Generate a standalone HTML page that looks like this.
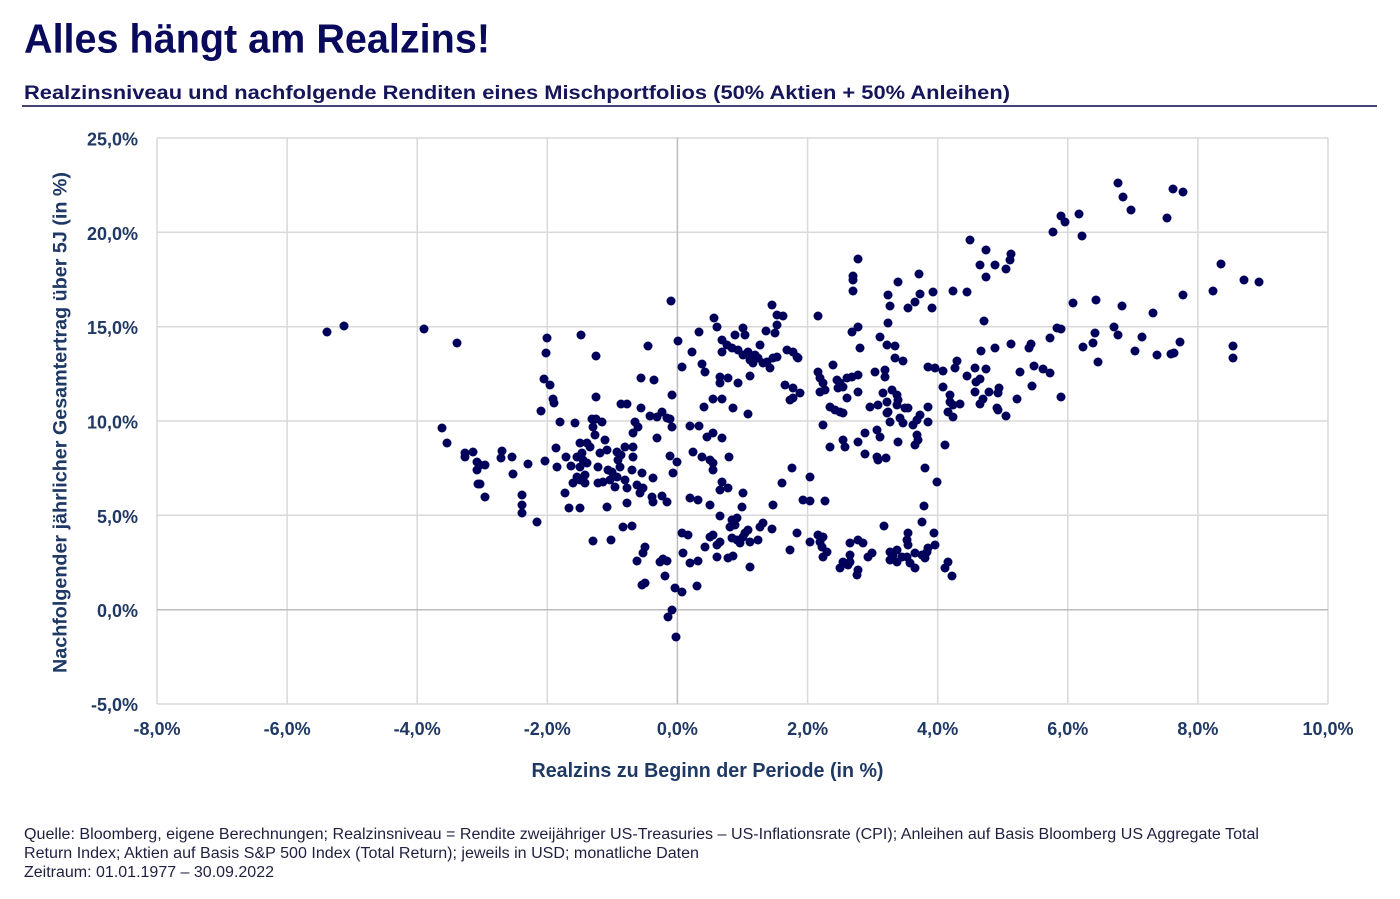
<!DOCTYPE html>
<html><head><meta charset="utf-8"><style>
html,body{margin:0;padding:0;background:#fff;}
svg{display:block;}
text{font-family:"Liberation Sans",Arial,sans-serif;}
</style></head><body>
<svg width="1400" height="899" viewBox="0 0 1400 899" xmlns="http://www.w3.org/2000/svg">
<rect width="1400" height="899" fill="#fff"/>
<text x="24" y="52.5" font-size="41" font-weight="bold" fill="#0a0a5c" textLength="466" lengthAdjust="spacingAndGlyphs">Alles hängt am Realzins!</text>
<text x="24" y="99" font-size="19" font-weight="bold" fill="#15155a" textLength="986" lengthAdjust="spacingAndGlyphs">Realzinsniveau und nachfolgende Renditen eines Mischportfolios (50% Aktien + 50% Anleihen)</text>
<line x1="22" y1="106" x2="1377" y2="106" stroke="#2b2b63" stroke-width="1.8"/>
<g stroke="#d9d9d9" stroke-width="1.5">
<line x1="157" y1="138" x2="157" y2="704"/>
<line x1="287.1" y1="138" x2="287.1" y2="704"/>
<line x1="417.2" y1="138" x2="417.2" y2="704"/>
<line x1="547.3" y1="138" x2="547.3" y2="704"/>
<line x1="807.6" y1="138" x2="807.6" y2="704"/>
<line x1="937.7" y1="138" x2="937.7" y2="704"/>
<line x1="1067.8" y1="138" x2="1067.8" y2="704"/>
<line x1="1197.9" y1="138" x2="1197.9" y2="704"/>
<line x1="1328" y1="138" x2="1328" y2="704"/>
<line x1="157" y1="138" x2="1328" y2="138"/>
<line x1="157" y1="232.3" x2="1328" y2="232.3"/>
<line x1="157" y1="326.7" x2="1328" y2="326.7"/>
<line x1="157" y1="421" x2="1328" y2="421"/>
<line x1="157" y1="515.3" x2="1328" y2="515.3"/>
<line x1="157" y1="704" x2="1328" y2="704"/>
</g>
<g stroke="#bcbcbc" stroke-width="1.5">
<line x1="677.4" y1="138" x2="677.4" y2="704"/>
<line x1="157" y1="609.7" x2="1328" y2="609.7"/>
</g>
<g font-size="18" font-weight="bold" fill="#1f3864" text-anchor="end">
<text x="138" y="145.5">25,0%</text>
<text x="138" y="239.8">20,0%</text>
<text x="138" y="334.2">15,0%</text>
<text x="138" y="428.5">10,0%</text>
<text x="138" y="522.8">5,0%</text>
<text x="138" y="617.2">0,0%</text>
<text x="138" y="711">-5,0%</text>
</g>
<g font-size="18" font-weight="bold" fill="#1f3864" text-anchor="middle">
<text x="157" y="735">-8,0%</text>
<text x="287.1" y="735">-6,0%</text>
<text x="417.2" y="735">-4,0%</text>
<text x="547.3" y="735">-2,0%</text>
<text x="677.4" y="735">0,0%</text>
<text x="807.6" y="735">2,0%</text>
<text x="937.7" y="735">4,0%</text>
<text x="1067.8" y="735">6,0%</text>
<text x="1197.9" y="735">8,0%</text>
<text x="1328" y="735">10,0%</text>
</g>
<text x="707.5" y="777" font-size="20" font-weight="bold" fill="#1f3864" text-anchor="middle" textLength="352" lengthAdjust="spacingAndGlyphs">Realzins zu Beginn der Periode (in %)</text>
<text transform="translate(66.5,422.5) rotate(-90)" x="0" y="0" font-size="19" font-weight="bold" fill="#1f3864" text-anchor="middle" textLength="501" lengthAdjust="spacingAndGlyphs">Nachfolgender jährlicher Gesamtertrag über 5J (in %)</text>
<g fill="#00005a" id="dots"></g>
<g font-size="15.5" fill="#1f2040">
<text x="24" y="839" textLength="1235" lengthAdjust="spacingAndGlyphs">Quelle: Bloomberg, eigene Berechnungen; Realzinsniveau = Rendite zweijähriger US-Treasuries – US-Inflationsrate (CPI); Anleihen auf Basis Bloomberg US Aggregate Total</text>
<text x="24" y="858" textLength="675" lengthAdjust="spacingAndGlyphs">Return Index; Aktien auf Basis S&amp;P 500 Index (Total Return); jeweils in USD; monatliche Daten</text>
<text x="24" y="877" textLength="250" lengthAdjust="spacingAndGlyphs">Zeitraum: 01.01.1977 – 30.09.2022</text>
</g>
</svg>
<script>
var pts="327,332 344,326 424,329 457,343 442,428 447,443 465,453 473,452 465,457 477,462 477,470 478,484 "+
"547,338 581,335 546,353 596,356 544,379 550,385 553,399 554,403 596,397 621,404 627,404 541,411 560,422 575,423 592,419 596,419 602,422 593,427 595,435 605,440 580,443 587,443 590,447 582,453 556,448 566,457 557,467 571,466 577,457 583,460 580,467 587,463 545,461 528,464 598,467 600,453 607,450 617,452 625,447 621,455 618,460 620,467 608,470 612,472 617,477 573,483 580,480 585,483 585,475 577,477 598,483 603,482 610,480 615,487 625,480 627,488 480,465 485,465 502,451 501,458 512,457 513,474 480,484 485,497 522,495 522,505 522,513 537,522 565,493 569,508 580,508 607,507 627,503 623,527 593,541 611,540 "+
"671,301 648,346 678,341 699,332 714,318 717,327 692,352 682,367 702,364 705,372 722,340 722,352 727,345 732,348 735,335 743,328 745,335 738,350 743,355 748,352 750,360 753,363 755,355 760,345 758,358 763,363 767,362 770,368 773,358 777,357 772,305 777,315 783,316 777,325 775,333 766,331 787,350 793,352 797,357 798,358 750,376 720,377 720,383 728,378 738,383 713,399 722,399 704,407 733,408 748,414 785,385 793,388 800,393 790,400 793,398 818,316 818,372 820,378 823,383 820,392 825,390 833,365 837,380 840,383 843,387 838,388 847,378 852,377 858,375 858,392 847,398 830,407 835,410 840,412 843,413 823,425 830,447 843,440 845,447 858,442 865,433 877,430 880,437 865,454 877,457 878,460 886,458 898,442 870,407 878,405 887,402 888,412 852,332 858,327 860,348 880,337 887,345 895,346 888,323 890,306 908,308 915,302 932,308 895,358 903,361 875,372 885,370 885,377 883,393 892,390 897,395 898,400 897,405 905,408 908,408 887,413 890,422 900,418 903,423 913,425 917,420 920,415 928,422 928,407 917,435 918,440 915,445 928,367 935,368 925,468 937,482 945,445 "+
"641,378 654,380 672,395 641,408 650,416 657,417 662,412 667,418 670,419 635,422 638,427 633,433 672,427 657,438 633,447 633,457 632,470 642,473 653,478 670,456 677,462 673,473 637,485 643,488 640,493 652,497 662,496 653,502 667,502 690,426 699,426 707,437 713,433 722,438 693,452 702,457 710,460 713,463 713,470 729,457 722,482 720,490 728,488 743,493 792,468 782,483 810,477 "+
"690,498 698,500 710,505 742,507 773,505 803,500 810,501 825,501 720,516 732,520 737,518 735,525 730,527 763,523 760,527 772,529 632,526 682,533 688,535 713,535 710,537 720,542 717,545 732,538 737,540 743,537 748,530 745,533 740,543 750,542 758,540 705,547 683,553 645,547 643,553 637,561 660,562 663,559 667,561 690,563 698,561 717,557 728,558 733,556 750,567 665,576 642,585 645,583 675,588 682,592 697,586 672,610 668,617 676,637 797,533 810,542 790,550 818,535 823,537 820,542 822,547 827,552 823,557 850,543 858,540 863,543 843,562 840,568 850,555 850,562 848,565 858,570 857,575 868,557 872,553 884,526 908,533 907,540 908,545 922,522 924,506 934,533 935,545 890,552 893,555 897,550 890,560 897,562 902,557 907,557 910,563 915,568 915,553 922,555 927,552 928,548 925,558 948,562 945,568 952,576 "+
"858,259 853,276 853,280 853,291 898,282 919,274 888,295 920,294 933,292 "+
"1118,183 1123,197 1131,210 1173,189 1183,192 1167,218 1061,216 1065,222 1079,214 1053,232 1082,236 970,240 986,250 980,265 995,265 1011,254 1010,260 1006,269 986,277 953,291 967,292 984,321 1073,303 1096,300 1122,306 1153,313 1183,295 1213,291 1221,264 1244,280 1259,282 1057,328 1061,329 1050,338 1095,333 1093,343 1083,347 1098,362 1114,327 1118,335 1142,337 1135,351 1157,355 1171,354 1174,353 1180,342 1233,346 1233,358 1031,344 1029,348 1011,344 995,348 981,351 1034,366 1043,369 1050,373 1032,386 1061,397 1020,372 1017,399 943,371 957,361 955,368 975,368 986,369 967,376 980,379 976,382 943,387 950,395 950,402 975,392 989,392 999,388 998,393 983,399 980,404 960,404 953,405 948,412 953,417 997,408 998,410 1006,416";
var g=document.getElementById("dots"),ns="http://www.w3.org/2000/svg";
pts.trim().split(/\s+/).forEach(function(p){var a=p.split(",");var c=document.createElementNS(ns,"circle");c.setAttribute("cx",a[0]);c.setAttribute("cy",a[1]);c.setAttribute("r","4.5");g.appendChild(c);});
</script>
</body></html>
